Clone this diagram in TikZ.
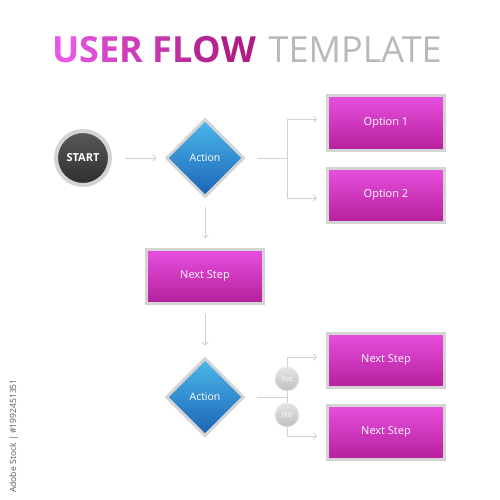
\documentclass[tikz,border=0pt]{standalone}
\usepackage{fontspec}
\setmainfont{Open Sans}
\usetikzlibrary{shapes.geometric,arrows.meta}
\definecolor{magTop}{HTML}{E84FE0}
\definecolor{magBot}{HTML}{B5209A}
\definecolor{blueTop}{HTML}{4DB8EA}
\definecolor{blueBot}{HTML}{1A63B5}
\definecolor{frameGray}{HTML}{D4D4D4}
\definecolor{lineGray}{HTML}{D2D2D2}
\definecolor{titleA}{HTML}{E757E3}
\definecolor{titleB}{HTML}{AD1E88}
\definecolor{tplGray}{HTML}{B9B9B9}
\definecolor{darkTop}{HTML}{595959}
\definecolor{darkBot}{HTML}{2E2E2E}
\begin{document}
\begin{tikzpicture}[x=1pt,y=-1pt,
  boxnode/.style={rectangle, minimum width=117pt, minimum height=54pt, inner sep=0pt,
    top color=magTop, bottom color=magBot, draw=frameGray, line width=3pt,
    text=white, font=\fontsize{11}{13}\selectfont},
  actnode/.style={diamond, aspect=1, minimum width=78pt, minimum height=78pt, inner sep=0pt,
    top color=blueTop, bottom color=blueBot, draw=frameGray, line width=3pt,
    text=white, font=\fontsize{10.5}{12}\selectfont},
  startnode/.style={circle, minimum size=54pt, inner sep=0pt,
    top color=darkTop, bottom color=darkBot, draw=frameGray, line width=4pt,
    text=white, font=\bfseries\fontsize{11}{13}\selectfont},
  ynnode/.style={circle, minimum size=24pt, inner sep=0pt,
    top color=black!10, bottom color=black!25, draw=black!8, line width=0.8pt,
    text=white, font=\fontsize{7.5}{9}\selectfont},
  conn/.style={draw=lineGray, line width=0.8pt},
  arr/.style={conn, -{Straight Barb[length=3pt,width=6pt]}}
]
\useasboundingbox (0,0) rectangle (500,500);
\fill[white] (0,0) rectangle (500,500);

% title
\node[anchor=base west, inner sep=0pt, font=\fontsize{36}{40}\selectfont] (title) at (52,63)
  {\bfseries\textcolor{titleA}{U}\textcolor{titleA!86!titleB}{S}\textcolor{titleA!71!titleB}{E}\textcolor{titleA!57!titleB}{R} \textcolor{titleA!43!titleB}{F}\textcolor{titleA!29!titleB}{L}\textcolor{titleA!14!titleB}{O}\textcolor{titleB}{W}\mdseries\hspace{0.35em}\textcolor{tplGray}{TEMPLATE}};

% side text
\node[rotate=90, anchor=east, inner sep=0pt, text=black!65, font=\fontsize{8.6}{10}\selectfont] (stock) at (14,379) {Adobe Stock | \#1992451351};

% nodes
\node[startnode] (start) at (83,158) {START};
\node[actnode] (d1) at (205,158) {Action};
\node[boxnode] (o1) at (386,123) {Option 1};
\node[boxnode] (o2) at (386,195) {Option 2};
\node[boxnode] (n1) at (205,276) {Next Step};
\node[actnode] (d2) at (205,397) {Action};
\node[boxnode] (o3) at (386,360) {Next Step};
\node[boxnode] (o4) at (386,432) {Next Step};

\coordinate (j1) at (287,158);
\coordinate (j2) at (287,397);

% connectors
\draw[arr] ([xshift=13pt]start.east) -- ([xshift=-8pt]d1.west);
\draw[conn] ([xshift=11pt]d1.east) -- (j1);
\draw[arr] (j1) |- ([xshift=-9pt,yshift=4pt]o1.west);
\draw[arr] (j1) |- ([xshift=-9pt,yshift=-3pt]o2.west);
\draw[arr] ([yshift=-8pt]d1.south) -- ([yshift=9pt]n1.north);
\draw[arr] ([yshift=-9pt]n1.south) -- ([yshift=11pt]d2.north);
\draw[conn] ([xshift=11pt]d2.east) -- (j2);
\draw[arr] (j2) |- ([xshift=-9pt,yshift=3pt]o3.west);
\draw[arr] (j2) |- ([xshift=-9pt,yshift=-4pt]o4.west);

\node[ynnode] (yes) at (287,379) {Yes};
\node[ynnode] (no) at (287,415) {No};
\end{tikzpicture}
\end{document}
